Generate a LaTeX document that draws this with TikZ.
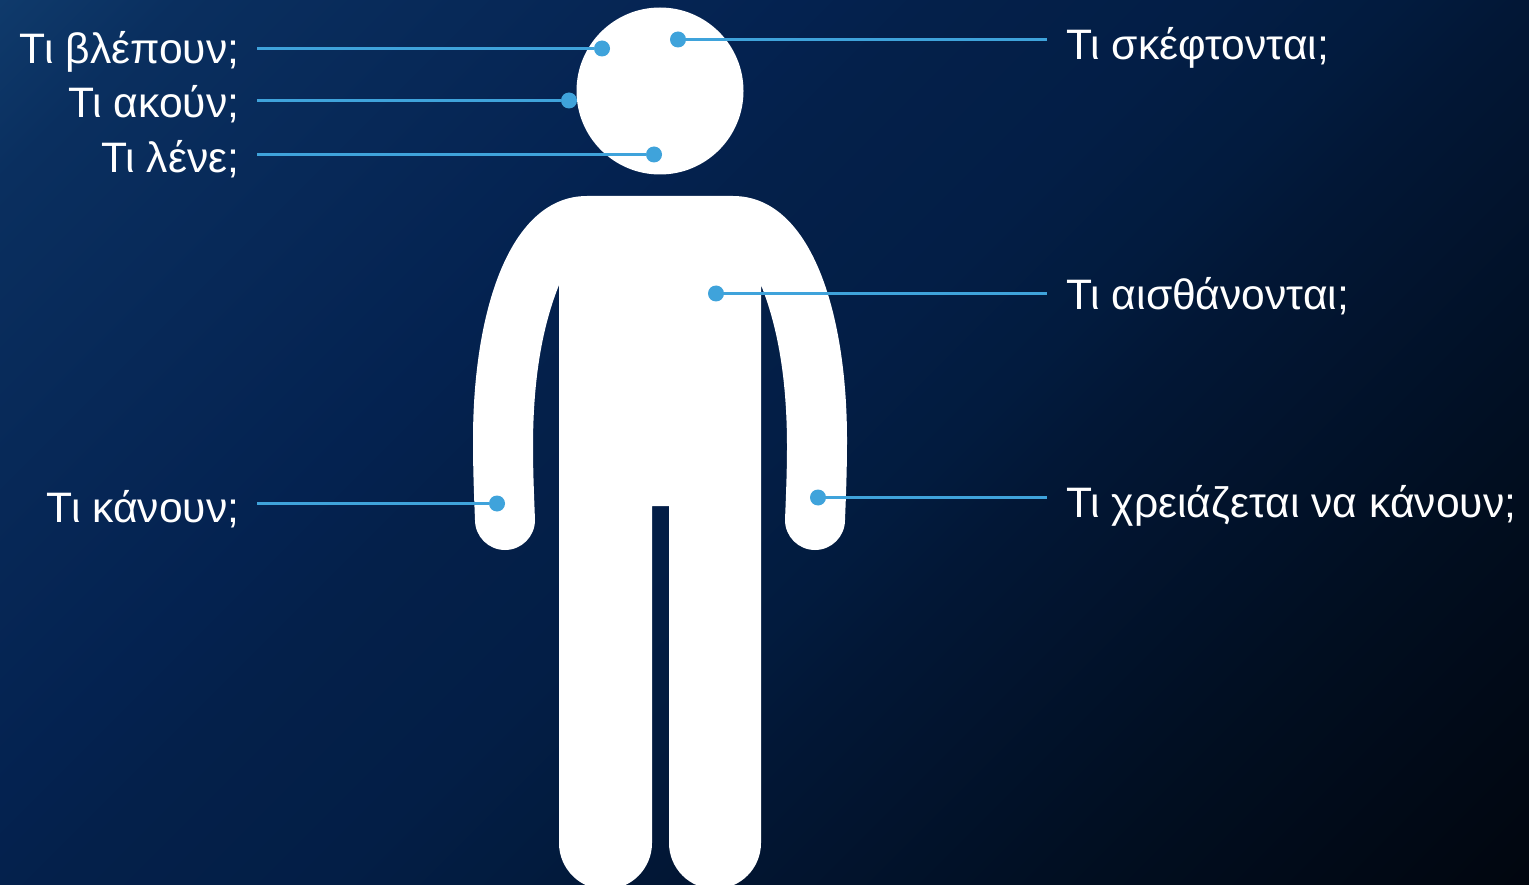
\documentclass[tikz,border=0pt]{standalone}
\usepackage{fontspec}
\setmainfont{Liberation Sans}
\definecolor{bgs0}{HTML}{0F3A6B}
\definecolor{bgs1}{HTML}{0A2F5F}
\definecolor{bgs2}{HTML}{042250}
\definecolor{bgs3}{HTML}{04204A}
\definecolor{bgs4}{HTML}{031E46}
\definecolor{bgs5}{HTML}{021B3E}
\definecolor{bgs6}{HTML}{021736}
\definecolor{bgs7}{HTML}{010E20}
\definecolor{bgs8}{HTML}{01060F}
\definecolor{callout}{HTML}{3FA3DB}
\pgfdeclarehorizontalshading{bggrad}{100bp}{color(0bp)=(bgs0); color(7.5bp)=(bgs1); color(33bp)=(bgs2); color(39bp)=(bgs3); color(50bp)=(bgs4); color(58bp)=(bgs5); color(63bp)=(bgs6); color(82bp)=(bgs7); color(100bp)=(bgs8)}
\tikzset{
  lbl/.style={text=white,font=\fontsize{42.6}{42.6}\selectfont,inner sep=0pt},
  lblL/.style={lbl,anchor=base east},
  lblR/.style={lbl,anchor=base west},
  dot/.style={circle,fill=callout,draw=none,minimum size=16pt,inner sep=0pt},
  lead/.style={draw=callout,line width=3pt},
  bodyfill/.style={fill=white,draw=none}
}
\begin{document}
\begin{tikzpicture}[x=1pt,y=-1pt]
\useasboundingbox (0,0) rectangle (1529,885);
\clip (0,0) rectangle (1529,885);
\node[inner sep=0pt,rotate=-45,scale=17.01] (bg) at (764.5,442.5) {\pgfuseshading{bggrad}};
% head
\fill[bodyfill] (660,91) circle[radius=83.5];
% body
\fill[bodyfill] (587,196) -- (733,196)
  .. controls (810,196) and (847,310) .. (847,440)
  .. controls (847,470) and (846,495) .. (845,520)
  arc[start angle=0,end angle=180,radius=30]
  .. controls (786,495) and (787,470) .. (787,447)
  .. controls (787,370) and (775,320) .. (761,285)
  -- (761,843)
  arc[start angle=0,end angle=180,radius=46]
  -- (669,506) -- (652,506) -- (652,843)
  arc[start angle=0,end angle=180,radius=46.5]
  -- (559,285)
  .. controls (545,320) and (533,370) .. (533,447)
  .. controls (533,470) and (534,495) .. (535,520)
  arc[start angle=0,end angle=180,radius=30]
  .. controls (474,495) and (473,470) .. (473,440)
  .. controls (473,310) and (510,196) .. (587,196) -- cycle;
% labels
\node[lblL] (see)  at (239.5,64)  {Τι βλέπουν;};
\node[lblL] (hear) at (239.5,118) {Τι ακούν;};
\node[lblL] (say)  at (239.5,173) {Τι λένε;};
\node[lblL] (do)   at (239.5,522) {Τι κάνουν;};
\node[lblR] (think) at (1066,60)  {Τι σκέφτονται;};
\node[lblR] (feel)  at (1066,310) {Τι αισθάνονται;};
\node[lblR] (need)  at (1066,517) {Τι χρειάζεται να κάνουν;};
% dots
\node[dot] (dsee)   at (602,48.5)  {};
\node[dot] (dhear)  at (569,100.5) {};
\node[dot] (dsay)   at (654,154.5) {};
\node[dot] (ddo)    at (497,503.5) {};
\node[dot] (dthink) at (678,39.5)  {};
\node[dot] (dfeel)  at (716,293.5) {};
\node[dot] (dneed)  at (818,497.5) {};
% free ends
\coordinate (esee)   at (257,48.5);
\coordinate (ehear)  at (257,100.5);
\coordinate (esay)   at (257,154.5);
\coordinate (edo)    at (257,503.5);
\coordinate (ethink) at (1047,39.5);
\coordinate (efeel)  at (1047,293.5);
\coordinate (eneed)  at (1047,497.5);
% connectors
\draw[lead] (esee) -- (dsee);
\draw[lead] (ehear) -- (dhear);
\draw[lead] (esay) -- (dsay);
\draw[lead] (edo) -- (ddo);
\draw[lead] (dthink) -- (ethink);
\draw[lead] (dfeel) -- (efeel);
\draw[lead] (dneed) -- (eneed);
\end{tikzpicture}
\end{document}
